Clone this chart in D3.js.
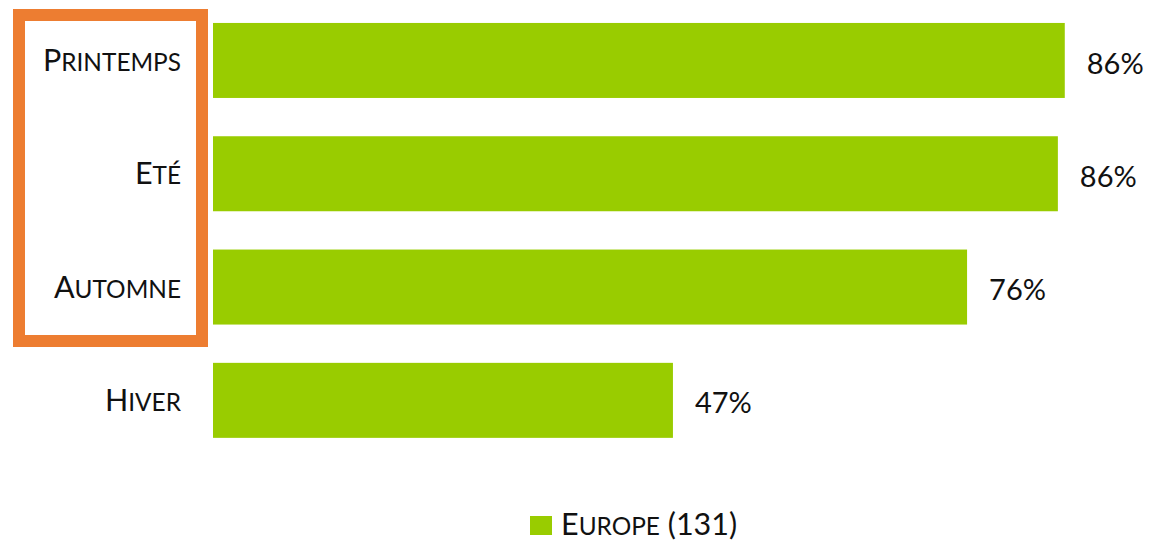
<!DOCTYPE html>
<html>
<head>
<meta charset="utf-8">
<script src="https://cdn.jsdelivr.net/npm/d3@7"></script>
<style>
  body { margin: 0; background: #fff; }
  svg { display: block; font-family: Lato, "Open Sans", sans-serif; }
</style>
</head>
<body>
<div id="chart"></div>
<script>
// data: share of the Europe sample per season (%)
var seasons = ["Printemps", "Eté", "Automne", "Hiver"];
var values = [86.3, 85.6, 76.4, 46.6];
var seriesName = "Europe";
var sampleSize = 131;

var width = 1166, height = 548;
var barColor = "#99cc00";
var textColor = "#111";
var fontSize = 29;
var labelSize = 30.5;

var svg = d3.select("#chart").append("svg")
  .attr("width", width)
  .attr("height", height);

var x = d3.scaleLinear()
  .domain([0, 100])
  .range([213, 1200]);

var y = d3.scaleBand()
  .domain(seasons)
  .range([3.8, 457])
  .paddingInner(0.338)
  .paddingOuter(0.169);

// fake small caps: first letter full size, the rest upper case and smaller
function smallCaps(sel, word, suffix) {
  sel.append("tspan").text(word.charAt(0).toUpperCase());
  sel.append("tspan")
    .attr("font-size", (labelSize * 0.8) + "px")
    .text(word.slice(1).toUpperCase());
  if (suffix) sel.append("tspan").text(suffix);
}

// bars
svg.selectAll("rect.bar")
  .data(seasons)
  .enter().append("rect")
  .attr("class", "bar")
  .attr("x", x(0))
  .attr("y", d => y(d))
  .attr("width", (d, i) => x(values[i]) - x(0))
  .attr("height", y.bandwidth())
  .attr("fill", barColor);

// value labels
svg.selectAll("text.value")
  .data(seasons)
  .enter().append("text")
  .attr("class", "value")
  .attr("x", (d, i) => x(values[i]) + 22)
  .attr("y", d => y(d) + y.bandwidth() / 2)
  .attr("dy", "0.45em")
  .attr("font-size", fontSize + "px")
  .attr("fill", textColor)
  .text((d, i) => Math.round(values[i]) + "%");

// category labels
svg.selectAll("text.cat")
  .data(seasons)
  .enter().append("text")
  .attr("class", "cat")
  .attr("x", 181)
  .attr("y", d => y(d) + y.bandwidth() / 2)
  .attr("dy", "0.35em")
  .attr("text-anchor", "end")
  .attr("font-size", labelSize + "px")
  .attr("fill", textColor)
  .each(function(d) { smallCaps(d3.select(this), d); });

// highlight frame around first three labels
svg.append("rect")
  .attr("x", 19)
  .attr("y", 15)
  .attr("width", 183)
  .attr("height", 326)
  .attr("fill", "none")
  .attr("stroke", "#ed7d31")
  .attr("stroke-width", 12);

// legend
var legend = svg.append("g")
  .attr("transform", "translate(530,516)");
legend.append("rect")
  .attr("width", 22)
  .attr("height", 19)
  .attr("fill", barColor);
legend.append("text")
  .attr("x", 31)
  .attr("y", 19)
  .attr("font-size", labelSize + "px")
  .attr("fill", textColor)
  .call(smallCaps, seriesName, " (" + sampleSize + ")");
</script>
</body>
</html>
